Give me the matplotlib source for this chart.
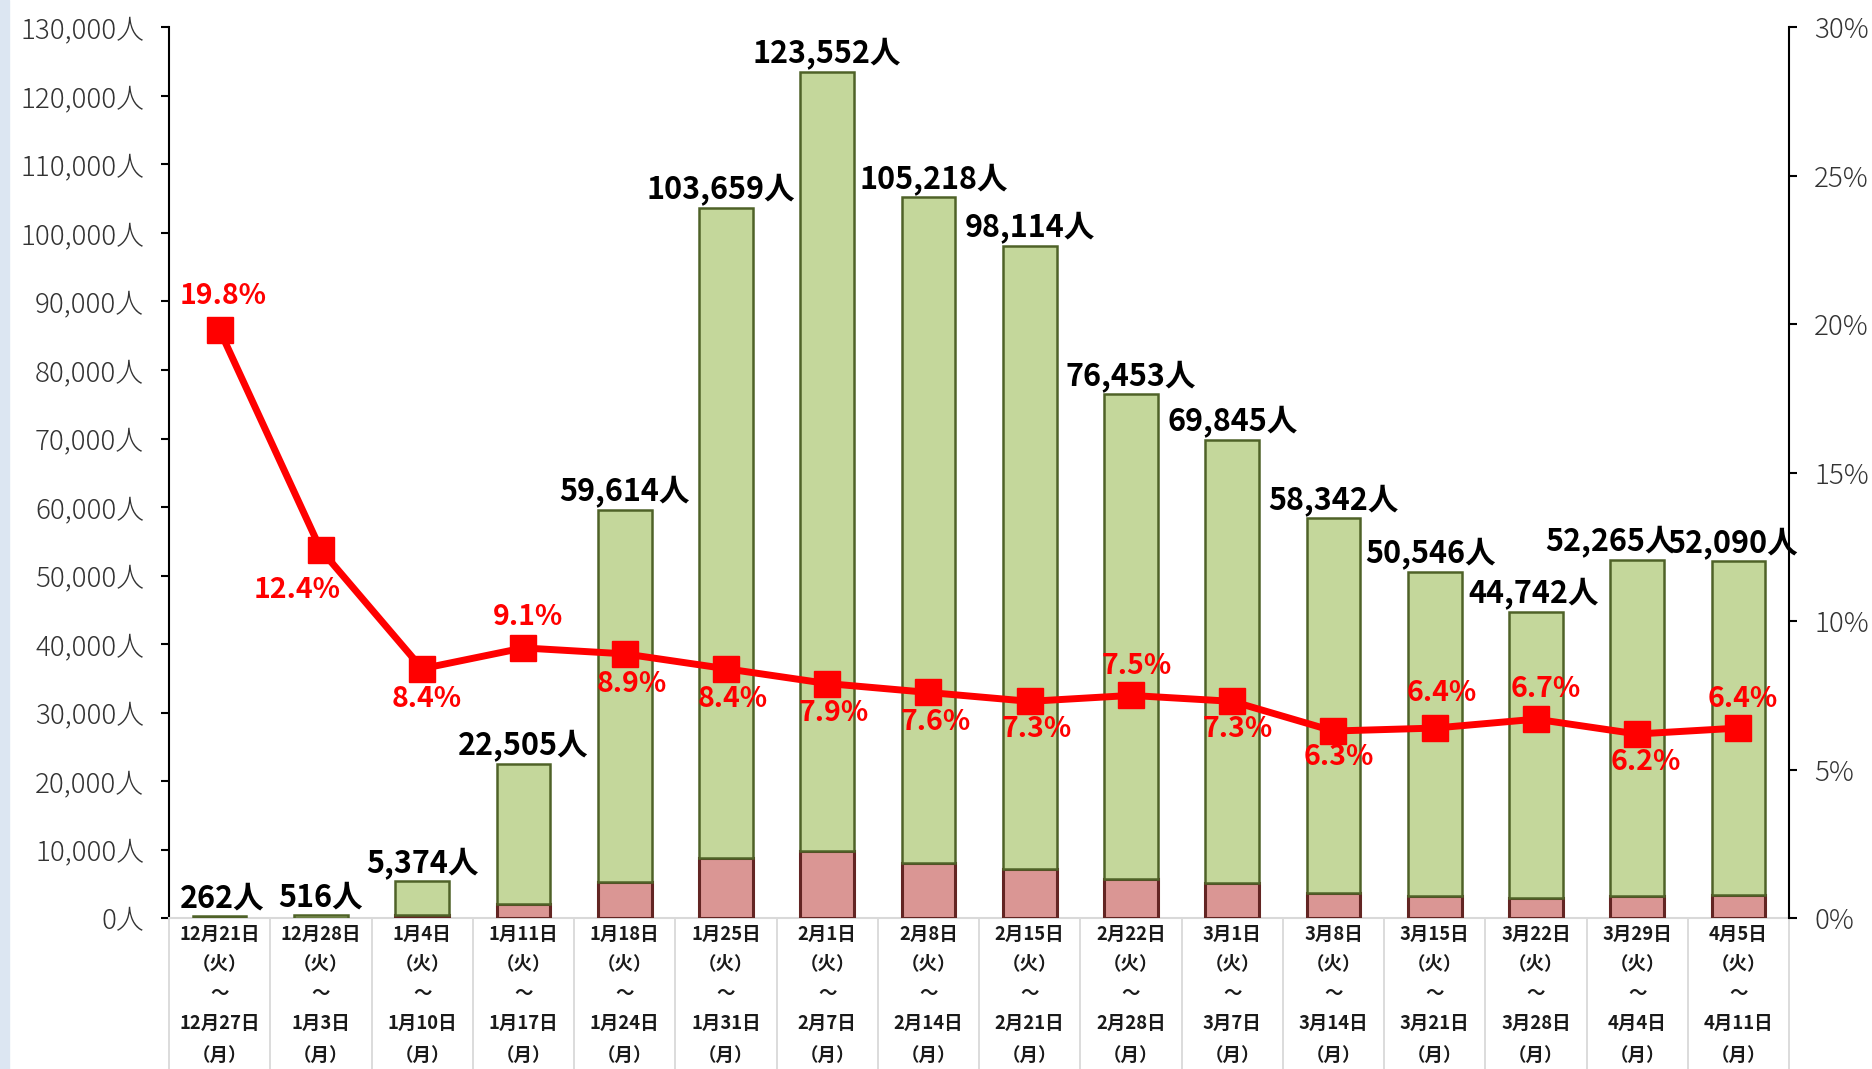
import matplotlib
matplotlib.use("Agg")

import matplotlib.pyplot as plt
from matplotlib.patches import Rectangle

plt.rcParams['font.family'] = ['Noto Sans CJK JP', 'DejaVu Sans']

# ----------------------------
# DATOS
# ----------------------------
start_dates = ["12月21日", "12月28日", "1月4日", "1月11日", "1月18日", "1月25日",
               "2月1日", "2月8日", "2月15日", "2月22日", "3月1日", "3月8日",
               "3月15日", "3月22日", "3月29日", "4月5日"]
end_dates = ["12月27日", "1月3日", "1月10日", "1月17日", "1月24日", "1月31日",
             "2月7日", "2月14日", "2月21日", "2月28日", "3月7日", "3月14日",
             "3月21日", "3月28日", "4月4日", "4月11日"]

totals = [262, 516, 5374, 22505, 59614, 103659, 123552, 105218, 98114,
          76453, 69845, 58342, 50546, 44742, 52265, 52090]
subset = [52, 64, 450, 2050, 5300, 8700, 9750, 8000, 7150,
          5730, 5100, 3680, 3230, 3000, 3240, 3330]
ratio = [19.8, 12.4, 8.4, 9.1, 8.9, 8.4, 7.9, 7.6, 7.3,
         7.5, 7.3, 6.3, 6.4, 6.7, 6.2, 6.4]

# posiciones de etiquetas (puntos)
pct_off = [(2.6, 25), (-17, -29), (3.4, -21.5), (3.4, 22), (5, -22), (5, -21.5),
           (5, -21.5), (5, -21.5), (5, -20), (4, 21.5), (4, -20), (4, -19),
           (5, 25), (7, 22), (6, -20), (3.4, 21)]
val_dx = [2, 0, 0, 0, 0, -4, 0, 4, 0, 0, 0, 0, -3, -2, -19, -4]

x = list(range(len(totals)))
green = [t - s for t, s in zip(totals, subset)]

# ----------------------------
# FIGURA
# ----------------------------
fig = plt.figure(figsize=(18.72, 10.69), dpi=100)
fig.patches.append(Rectangle((0, 0), 9 / 1872, 1, transform=fig.transFigure,
                             color='#dce6f2', zorder=0))
ax = fig.add_axes([0.0903, 0.1412, 0.8654, 0.8331])

ax.bar(x, subset, width=0.53, color='#da9694', edgecolor='#632523', linewidth=2.2, zorder=3)
ax.bar(x, green, bottom=subset, width=0.53, color='#c4d79b', edgecolor='#4f6228',
       linewidth=1.8, zorder=3)

for i, t in enumerate(totals):
    ax.annotate(f"{t:,}人", (i, t), xytext=(val_dx[i], 1), textcoords='offset points',
                ha='center', va='bottom', fontsize=22, fontweight='bold', color='black',
                zorder=5)

ax.set_xlim(-0.5, len(totals) - 0.5)
ax.set_ylim(0, 130000)
ax.set_yticks(range(0, 130001, 10000))
ax.set_yticklabels([f"{v:,}人" for v in range(0, 130001, 10000)], fontsize=20,
                   color='#333333', fontweight='light')
ax.tick_params(axis='y', direction='out', length=6, width=1.5, pad=12)
ax.set_xticks([])
for s in ['top', 'right']:
    ax.spines[s].set_visible(False)
ax.spines['left'].set_linewidth(1.5)
ax.spines['bottom'].set_color('#d9d9d9')
ax.spines['bottom'].set_linewidth(1.5)

# tabla de categorías
ybot = -0.1412 / 0.8331
xt = ax.get_xaxis_transform()
for b in range(len(totals) + 1):
    ax.plot([b - 0.5, b - 0.5], [0, ybot], transform=xt, color='#d9d9d9',
            linewidth=1.3, clip_on=False)
row_off = [-11.5, -33, -54, -76, -98.6]
for i in x:
    rows = [start_dates[i], "（火）", "～", end_dates[i], "（月）"]
    for txt, dy in zip(rows, row_off):
        ax.annotate(txt, (i, 0), xycoords=xt, xytext=(0, dy), textcoords='offset points',
                    ha='center', va='center', fontsize=13.3, fontweight='bold',
                    color='#1a1a1a', annotation_clip=False)

# eje derecho
ax2 = ax.twinx()
ax2.set_ylim(0, 30)
ax2.set_yticks(range(0, 31, 5))
ax2.set_yticklabels([f"{v}%" for v in range(0, 31, 5)], fontsize=20, color='#333333',
                    fontweight='light')
ax2.tick_params(axis='y', direction='out', length=6, width=1.5, pad=12)
for s in ['top', 'left', 'bottom']:
    ax2.spines[s].set_visible(False)
ax2.spines['right'].set_linewidth(1.5)

ax2.plot(x, ratio, color='#ff0000', linewidth=5, marker='s', markersize=19, zorder=4)
for i, r in enumerate(ratio):
    ax2.annotate(f"{r}%", (i, r), xytext=pct_off[i], textcoords='offset points',
                 ha='center', va='center', fontsize=20.5, fontweight='bold', color='#ff0000')

fig.savefig("out.png", dpi=100)
